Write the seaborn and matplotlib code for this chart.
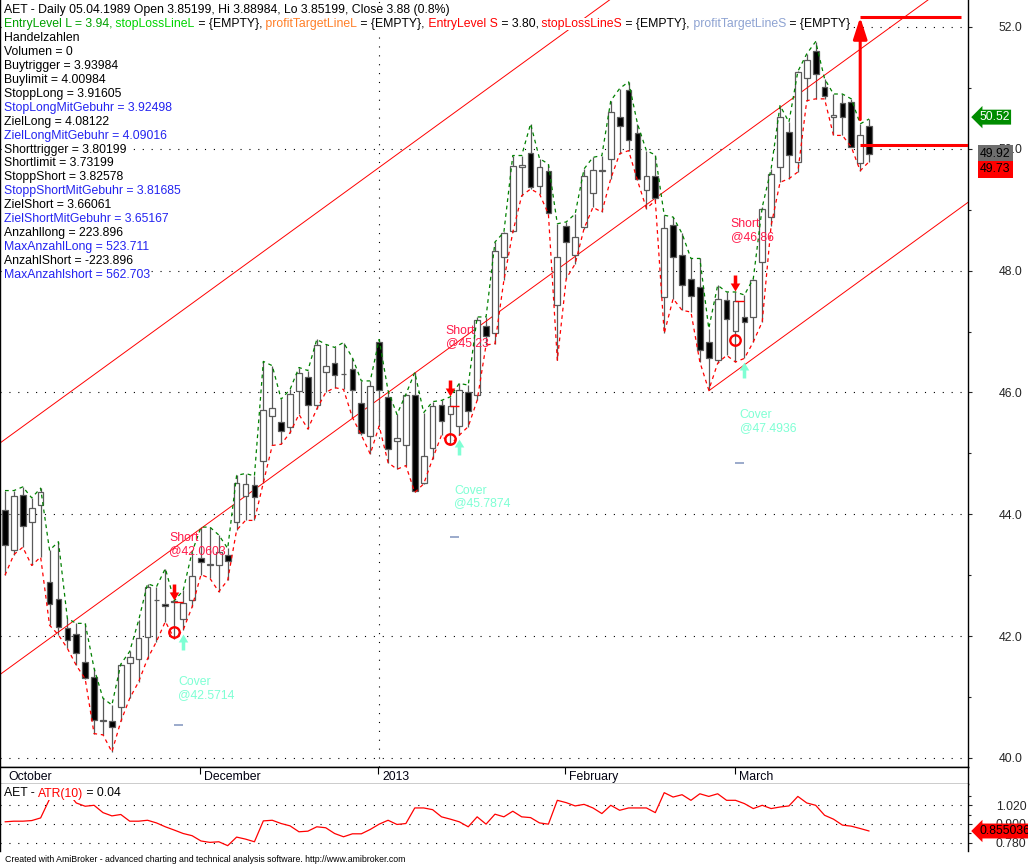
import matplotlib
matplotlib.use("Agg")
import matplotlib.pyplot as plt
from matplotlib.path import Path
from matplotlib.ticker import FormatStrFormatter
from matplotlib.transforms import offset_copy
import numpy as np
import pandas as pd
import seaborn as sns

# daily bars (31.10.2012 .. 22.03.2013)
opens = [44.07, 43.42, 44.31, 43.87, 44.16, 42.89, 42.61, 42.14, 42.03, 41.58,
         41.33, 40.62, 40.61, 40.84, 41.56, 41.63, 41.99, 42.59, 42.52, 42.57,
         42.28, 42.60, 43.28, 43.17, 43.17, 43.34, 43.87, 44.30, 44.48, 44.87,
         45.61, 45.52, 45.44, 46.03, 46.26, 45.79, 46.34, 46.48, 46.31, 46.39,
         45.83, 45.28, 46.83, 45.93, 45.20, 45.13, 45.96, 44.52, 45.09, 45.80,
         45.64, 45.45, 46.01, 45.96, 47.09, 46.98, 48.22, 48.65, 49.70, 49.93,
         49.39, 49.64, 47.44, 48.73, 48.25, 48.72, 49.27, 49.64, 49.83, 50.52,
         50.96, 50.26, 49.32, 49.56, 47.57, 48.75, 48.25, 47.87, 47.73, 46.83,
         46.53, 47.52, 47.01, 47.24, 47.24, 48.14, 48.88, 49.70, 50.28, 49.79,
         51.17, 51.60, 51.01, 50.52, 50.75, 50.77, 49.77, 50.38]
highs = [44.39, 44.39, 44.45, 44.27, 44.43, 43.41, 43.55, 42.29, 42.21, 42.21,
         41.47, 40.98, 40.87, 41.54, 41.75, 42.26, 42.86, 42.81, 43.11, 42.58,
         42.75, 43.38, 43.79, 43.79, 43.66, 43.44, 44.64, 44.67, 44.63, 46.51,
         46.44, 45.89, 46.05, 46.41, 46.36, 46.87, 46.79, 46.74, 46.82, 46.57,
         46.19, 46.19, 46.87, 46.03, 45.64, 45.97, 46.33, 45.67, 45.85, 45.87,
         45.93, 46.15, 46.12, 47.24, 47.24, 48.47, 48.63, 49.89, 49.89, 50.41,
         49.84, 49.75, 48.77, 48.80, 48.93, 49.67, 49.86, 49.89, 50.79, 50.99,
         51.10, 50.41, 49.97, 49.90, 48.91, 48.88, 48.61, 48.20, 48.20, 47.05,
         47.76, 47.65, 47.65, 47.60, 47.87, 49.04, 49.67, 50.71, 50.44, 51.27,
         51.56, 51.76, 51.15, 50.90, 50.90, 50.82, 50.41, 50.49]
lows = [43.00, 43.34, 43.46, 43.16, 43.30, 42.18, 42.02, 41.80, 41.52, 41.30,
        40.40, 40.38, 40.10, 40.60, 40.98, 41.25, 41.63, 41.91, 42.24, 41.96,
        42.10, 42.48, 43.01, 42.95, 42.73, 42.92, 43.74, 43.90, 43.90, 44.52,
        45.13, 45.15, 45.34, 45.64, 45.40, 45.73, 46.00, 46.08, 46.05, 45.59,
        45.30, 44.99, 45.45, 44.85, 44.74, 44.80, 44.36, 44.50, 44.91, 45.30,
        45.14, 45.30, 45.44, 45.87, 46.78, 46.80, 47.84, 48.63, 49.23, 49.34,
        49.26, 48.93, 46.53, 47.87, 48.11, 48.69, 49.04, 48.96, 49.51, 49.92,
        49.97, 49.48, 49.02, 49.15, 46.97, 47.54, 47.35, 47.32, 46.50, 46.04,
        46.48, 46.61, 46.50, 46.56, 46.83, 47.16, 48.74, 49.45, 49.51, 49.62,
        50.79, 50.82, 50.82, 50.22, 50.22, 50.03, 49.64, 49.79]
closes = [43.50, 44.30, 43.81, 44.10, 44.37, 42.52, 42.15, 41.93, 41.73, 41.31,
          40.62, 40.60, 40.51, 41.52, 41.66, 41.97, 42.80, 42.60, 42.49, 42.56,
          42.55, 42.99, 43.21, 43.18, 43.38, 43.24, 44.52, 44.49, 44.28, 45.71,
          45.75, 45.36, 45.97, 46.32, 45.79, 46.78, 46.43, 46.29, 46.30, 46.04,
          45.34, 46.10, 46.04, 45.07, 45.26, 45.96, 44.38, 44.96, 45.77, 45.54,
          45.78, 46.04, 45.70, 47.19, 46.93, 48.33, 48.61, 49.71, 49.74, 49.37,
          49.70, 48.95, 48.22, 48.47, 48.55, 49.55, 49.66, 49.65, 50.60, 50.37,
          50.15, 49.51, 49.55, 49.19, 48.70, 48.23, 47.76, 47.58, 46.70, 46.56,
          47.54, 47.20, 47.50, 47.15, 47.84, 49.02, 49.59, 50.52, 49.90, 51.26,
          51.45, 51.23, 50.86, 50.56, 50.52, 50.03, 50.23, 49.92]
atr_values = [0.914, 0.918, 0.918, 0.922, 0.939, 1.060, 1.109, 1.105, 1.035, 1.014,
              1.020, 0.973, 0.952, 0.961, 0.918, 0.918, 0.924, 0.907, 0.882, 0.861,
              0.839, 0.825, 0.791, 0.782, 0.786, 0.761, 0.816, 0.803, 0.786, 0.920,
              0.924, 0.903, 0.888, 0.850, 0.854, 0.882, 0.876, 0.839, 0.818, 0.837,
              0.837, 0.865, 0.899, 0.924, 0.897, 0.903, 1.003, 1.003, 0.992, 0.946,
              0.931, 0.914, 0.882, 0.946, 0.899, 0.963, 0.946, 0.982, 0.946, 0.941,
              0.907, 0.899, 1.052, 1.037, 1.016, 1.026, 1.003, 0.967, 1.020, 0.988,
              1.003, 1.003, 1.003, 0.973, 1.101, 1.073, 1.088, 1.052, 1.094, 1.077,
              1.094, 1.052, 1.052, 1.031, 0.999, 1.020, 0.999, 1.009, 1.016, 1.077,
              1.035, 1.020, 0.956, 0.931, 0.893, 0.886, 0.871, 0.855]

holidays = ["2012-11-22", "2012-12-25", "2013-01-01", "2013-01-21", "2013-02-18"]
month_labels = {"2012-10": "October", "2012-12": "December", "2013-01": "2013",
                "2013-02": "February", "2013-03": "March"}

# trade signals (bar numbers)
short_bars = [19, 50, 82]
cover_bars = [20, 51, 83]
short_prices = ["42.0603", "45.23", "46.86"]
cover_prices = ["42.5714", "45.7874", "47.4936"]

# regression channel: middle line at first bar, slope per bar, half width
channel_start = 41.43
channel_slope = 0.1063
channel_width = 3.8
lower_line_from = 79

# profit target arrow on the last bars
target_bar = 96
target_level = 52.16
entry_level = 50.07
arrow_base = 50.48

label_values = [50.52, 49.92, 49.73]
atr_label = 0.855036

header_lines = [
    [("AET - Daily 05.04.1989 Open 3.85199, Hi 3.88984, Lo 3.85199, Close 3.88 (0.8%)", "black")],
    [("EntryLevel L = 3.94,", "#00A000"), (" stopLossLineL", "#00D400"), (" = {EMPTY},", "black"),
     (" profitTargetLineL", "#FF7F27"), (" = {EMPTY},", "black"), (" EntryLevel S", "#FF0000"),
     (" = 3.80,", "black"), (" stopLossLineS", "#FF0000"), (" = {EMPTY},", "black"),
     (" profitTargetLineS", "#8EA3D2"), (" = {EMPTY}", "black")],
    [("Handelzahlen", "black")],
    [("Volumen = 0", "black")],
    [("Buytrigger = 3.93984", "black")],
    [("Buylimit = 4.00984", "black")],
    [("StoppLong = 3.91605", "black")],
    [("StopLongMitGebuhr = 3.92498", "#2424F0")],
    [("ZielLong = 4.08122", "black")],
    [("ZielLongMitGebuhr = 4.09016", "#2424F0")],
    [("Shorttrigger = 3.80199", "black")],
    [("Shortlimit = 3.73199", "black")],
    [("StoppShort = 3.82578", "black")],
    [("StoppShortMitGebuhr = 3.81685", "#2424F0")],
    [("ZielShort = 3.66061", "black")],
    [("ZielShortMitGebuhr = 3.65167", "#2424F0")],
    [("Anzahllong = 223.896", "black")],
    [("MaxAnzahlLong = 523.711", "#2424F0")],
    [("AnzahlShort = -223.896", "black")],
    [("MaxAnzahlshort = 562.703", "#2424F0")],
]

# ---------------------------------------------------------------
sns.set_style("white")
plt.rcParams["font.family"] = ["Liberation Sans", "DejaVu Sans"]

dates = pd.bdate_range("2012-10-31", "2013-03-22")
dates = dates[~dates.isin(pd.to_datetime(holidays))]
df = pd.DataFrame({"date": dates, "open": opens, "high": highs, "low": lows,
                   "close": closes, "atr": atr_values})
df["bar"] = np.arange(len(df))
month_first = df.groupby(df["date"].dt.strftime("%Y-%m"))["bar"].min()

W, H = 1028, 865
fig = plt.figure(figsize=(W / 100, H / 100), dpi=100)


def rect(x0, y0, x1, y1):
    # pixel box measured from the top left corner
    return [x0 / W, 1 - y1 / H, (x1 - x0) / W, (y1 - y0) / H]


ax = fig.add_axes(rect(0, 0, 968, 767))
ax_d = fig.add_axes(rect(0, 767, 968, 784), sharex=ax)
ax_atr = fig.add_axes(rect(0, 784, 968, 851), sharex=ax)

edge = "#5a5a5a"
dotted = (0, (1, 7))
x_right = 108.1
txt_size = 8.8

# candles
up = df["close"] >= df["open"]
ax.vlines(df["bar"], df["low"], df["high"], color=edge, lw=0.9, zorder=2)
ax.bar(df["bar"], (df["close"] - df["open"]).abs().clip(lower=0.004),
       bottom=df[["open", "close"]].min(axis=1), width=0.64,
       color=np.where(up, "white", "black"), edgecolor=edge, linewidth=0.9, zorder=3)

# high / low envelope
sns.lineplot(data=df, x="bar", y="high", ax=ax, color="#008000", lw=0.9,
             linestyle=(0, (3, 3)), errorbar=None, zorder=4)
sns.lineplot(data=df, x="bar", y="low", ax=ax, color="#FF0000", lw=0.9,
             linestyle=(0, (3, 3)), errorbar=None, zorder=4)

# channel lines
xs = np.array([-1.0, x_right + 1])
mid = channel_start + channel_slope * xs
ax.plot(xs, mid + channel_width, color="red", lw=0.7, zorder=2)
ax.plot(xs, mid, color="red", lw=0.7, zorder=2)
xs_low = np.array([lower_line_from, x_right + 1])
ax.plot(xs_low, channel_start + channel_slope * xs_low - channel_width,
        color="red", lw=0.7, zorder=2)

# grid
for lvl in np.arange(40, 53, 2):
    ax.axhline(lvl, color="black", lw=0.8, ls=dotted, zorder=1)
ax.axvline(month_first["2013-01"], color="black", lw=0.8, ls=dotted, zorder=1)

# signals
down_arrow = Path([(-0.22, 1), (0.22, 1), (0.22, 0), (0.6, 0), (0, -1), (-0.6, 0),
                   (-0.22, 0), (-0.22, 1)], closed=True)
up_arrow = Path([(-0.22, -1), (0.22, -1), (0.22, 0), (0.6, 0), (0, 1), (-0.6, 0),
                 (-0.22, 0), (-0.22, -1)], closed=True)
sig = df.set_index("bar")
sh = sig.loc[short_bars]
cv = sig.loc[cover_bars]
ax.plot(short_bars, sh["high"], ls="none", marker=down_arrow, ms=11.5, color="red",
        mew=0, transform=offset_copy(ax.transData, fig=fig, y=6.5, units="points"), zorder=6)
ax.plot(cover_bars, cv["low"], ls="none", marker=up_arrow, ms=11.5, color="#7FFFD4",
        mew=0, transform=offset_copy(ax.transData, fig=fig, y=-8.5, units="points"), zorder=6)
ax.plot(short_bars, [float(p) for p in short_prices], ls="none", marker="o", ms=7.5,
        mfc="none", mec="red", mew=1.7, zorder=6)
ax.hlines(sh["close"].values, short_bars, cover_bars, color="red", lw=1, zorder=5)
ax.hlines(cv["low"].values * 0.963, short_bars, cover_bars, color="#8A9CC2", lw=1.2, zorder=5)
for b, hi, p in zip(short_bars, sh["high"], short_prices):
    ax.annotate(f"Short\n@{p}", xy=(b, hi * 1.017), xytext=(-3.5, 0), textcoords="offset points",
                ha="left", va="bottom", fontsize=txt_size, color="#FF1A4A", linespacing=1.05, zorder=7)
for b, lo, p in zip(cover_bars, cv["low"], cover_prices):
    ax.annotate(f"Cover\n@{p}", xy=(b, lo * 0.982), xytext=(-3.5, 0), textcoords="offset points",
                ha="left", va="top", fontsize=txt_size, color="#7FFFD4", linespacing=1.05, zorder=7)

# profit target
ax.annotate("", xy=(target_bar, target_level), xytext=(target_bar, arrow_base),
            arrowprops=dict(arrowstyle="-|>,head_length=1.3,head_width=0.42", color="red",
                            lw=2.2, shrinkA=0, shrinkB=0, mutation_scale=10), zorder=7)
ax.hlines(target_level, target_bar, target_bar + 11.3, color="red", lw=2.2, zorder=7)
ax.hlines(entry_level, target_bar, x_right, color="red", lw=2.2, zorder=7)

ax.set_xlim(-0.561, x_right)
ax.set_ylim(39.852, 52.443)
ax.set_xlabel("")
ax.set_ylabel("")
ax.yaxis.tick_right()
ax.set_yticks(np.arange(40, 53, 2))
ax.set_yticks(np.arange(41, 52, 2), minor=True)
ax.yaxis.set_major_formatter(FormatStrFormatter("%.1f"))
ax.tick_params(axis="x", which="both", bottom=False, labelbottom=False)
ax.tick_params(axis="y", which="both", direction="out", length=3, width=0.8,
               pad=19, labelsize=txt_size, right=True, left=False, labelleft=False)
ax.tick_params(axis="y", which="minor", length=2)
for s in ["left", "right", "bottom"]:
    ax.spines[s].set_color("black")
    ax.spines[s].set_linewidth(1)
ax.spines["top"].set_visible(False)

# value boxes on the price axis
box_kw = dict(xycoords=("axes fraction", "data"), textcoords="offset points",
              ha="left", va="center", fontsize=txt_size, annotation_clip=False, zorder=10)
ax.annotate(f"{label_values[0]:.2f}", xy=(1, label_values[0]), xytext=(8, 0), color="white",
            bbox=dict(boxstyle="larrow,pad=0.12", fc="#008C00", ec="none"), **box_kw)
ax.annotate(f"{label_values[1]:.2f}", xy=(1, label_values[1]), xytext=(8.6, 0), color="black",
            bbox=dict(boxstyle="square,pad=0.2", fc="#6E6E6E", ec="none"), **box_kw)
ax.annotate(f"{label_values[2]:.2f}", xy=(1, label_values[2]), xytext=(8.6, -3), color="black",
            bbox=dict(boxstyle="square,pad=0.2", fc="#FF0000", ec="none"), **box_kw)

# header texts
for k, pieces in enumerate(header_lines):
    y = H - (12.7 + 13.98 * k)
    prev = None
    for text, color in pieces:
        kw = dict(fontsize=txt_size, color=color, va="baseline", ha="left", zorder=10,
                  bbox=dict(boxstyle="square,pad=0", fc="white", ec="none"))
        if prev is None:
            prev = ax.annotate(text, xy=(4, y), xycoords="figure pixels", **kw)
        else:
            prev = ax.annotate(text, xy=(1, y), xycoords=(prev, "figure pixels"), **kw)

# date strip
ax_d.set_ylim(0, 1)
ax_d.set_yticks([])
ax_d.tick_params(axis="x", which="both", bottom=False, labelbottom=False)
for s in ax_d.spines.values():
    s.set_color("black")
    s.set_linewidth(1)
for n, (key, label) in enumerate(month_labels.items()):
    b = month_first[key]
    if n > 0:
        ax_d.vlines(b - 0.1, 0.6, 1.0, color="black", lw=0.8)
    ax_d.annotate(label, xy=(b, 0.235), xytext=(2.2, 0), textcoords="offset points",
                  ha="left", va="baseline", fontsize=txt_size, color="#000010")

# ATR panel
sns.lineplot(data=df, x="bar", y="atr", ax=ax_atr, color="red", lw=0.9, errorbar=None, zorder=3)
for lvl in [0.78, 0.90, 1.02]:
    ax_atr.axhline(lvl, color="black", lw=0.8, ls=dotted, zorder=1)
ax_atr.set_ylim(0.7267, 1.1567)
ax_atr.set_xlabel("")
ax_atr.set_ylabel("")
ax_atr.yaxis.tick_right()
ax_atr.set_yticks([0.78, 0.90, 1.02])
ax_atr.set_yticks([0.84, 0.96, 1.08], minor=True)
ax_atr.yaxis.set_major_formatter(FormatStrFormatter("%.3f"))
ax_atr.tick_params(axis="x", which="both", bottom=False, labelbottom=False)
ax_atr.tick_params(axis="y", which="both", direction="out", length=3, width=0.8,
                   pad=17, labelsize=txt_size, right=True, left=False, labelleft=False)
ax_atr.tick_params(axis="y", which="minor", length=2)
ax_atr.spines["top"].set_visible(False)
ax_atr.spines["bottom"].set_visible(False)
for s in ["left", "right"]:
    ax_atr.spines[s].set_color("black")
    ax_atr.spines[s].set_linewidth(1)
ax_atr.annotate(f"{atr_label:.6f}", xy=(1, atr_label), xytext=(8, 0), color="black",
                bbox=dict(boxstyle="larrow,pad=0.12", fc="#FF0000", ec="none"), **box_kw)

prev = None
for text, color in [("AET - ", "black"), ("ATR(10)", "#FF0000"), (" = 0.04", "black")]:
    kw = dict(fontsize=txt_size, color=color, va="baseline", ha="left", zorder=10,
              bbox=dict(boxstyle="square,pad=0", fc="white", ec="none"))
    if prev is None:
        prev = ax_atr.annotate(text, xy=(4, H - 796.5), xycoords="figure pixels", **kw)
    else:
        prev = ax_atr.annotate(text, xy=(1, H - 796.5), xycoords=(prev, "figure pixels"), **kw)

fig.text(5 / W, 1 - 862 / H, "Created with AmiBroker - advanced charting and technical analysis "
         "software. http://www.amibroker.com", fontsize=6.3, color="black", va="baseline")

fig.savefig("out.png", dpi=100)
plt.close(fig)
